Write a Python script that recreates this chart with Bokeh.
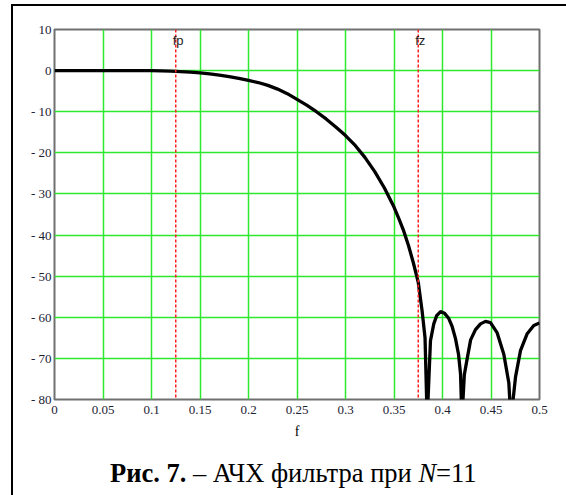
from bokeh.plotting import figure
from bokeh.models import Range1d, FixedTicker, Span, Label, Div
from bokeh.layouts import column
from bokeh.embed import file_html
from bokeh.resources import INLINE

# ---- data ----
freq = [0.0, 0.05, 0.08, 0.10, 0.11, 0.12, 0.13, 0.14, 0.15, 0.16, 0.17, 0.18, 0.19,
        0.20, 0.21, 0.22, 0.23, 0.24, 0.25, 0.26, 0.27, 0.28, 0.29, 0.30, 0.31,
        0.32, 0.33, 0.34, 0.35, 0.355, 0.36, 0.365, 0.37, 0.375, 0.379, 0.382,
        0.3842, 0.3876, 0.391, 0.394, 0.398, 0.402, 0.4065, 0.41, 0.4134, 0.4165,
        0.4186, 0.4200, 0.4225, 0.4255, 0.429, 0.434, 0.4392, 0.4443, 0.4495,
        0.4564, 0.4632, 0.4684, 0.4705, 0.4753, 0.4804, 0.4873, 0.4941, 0.5]
gain_db = [0.0, 0.0, 0.0, -0.02, -0.07, -0.14, -0.24, -0.37, -0.55, -0.8, -1.1, -1.45, -1.9,
           -2.4, -2.9, -3.6, -4.5, -5.6, -7.0, -8.4, -10.0, -11.75, -13.7, -15.8, -18.2,
           -21.1, -24.5, -28.5, -33.2, -36.0, -39.0, -42.6, -46.8, -51.5, -58.5, -65.0,
           -85.0, -65.7, -61.6, -59.6, -58.6, -59.0, -60.3, -62.3, -65.2, -69.0,
           -73.8, -85.0, -74.0, -70.0, -65.5, -63.0, -61.6, -61.0, -61.3,
           -63.8, -69.0, -76.0, -85.0, -74.5, -68.1, -64.0, -62.0, -61.4]

fp = 0.125
fz = 0.375

x_ticks = [0.0, 0.05, 0.1, 0.15, 0.2, 0.25, 0.3, 0.35, 0.4, 0.45, 0.5]
x_tick_labels = ["0", "0.05", "0.1", "0.15", "0.2", "0.25", "0.3", "0.35", "0.4", "0.45", "0.5"]
y_ticks = [10, 0, -10, -20, -30, -40, -50, -60, -70, -80]
y_tick_labels = ["10", "0", "- 10", "- 20", "- 30", "- 40", "- 50", "- 60", "- 70", "- 80"]

x_label = "f"
caption_html = '<b>Рис. 7.</b> – АЧХ фильтра при <i>N</i>=11'

# ---- layout (pixels) ----
W, H = 550, 443
ML, MT, FW, FH = 41, 23, 485, 370

p = figure(width=W, height=H, output_backend="svg", toolbar_location=None,
           x_range=Range1d(0, 0.5), y_range=Range1d(-80, 10),
           min_border_left=ML, min_border_right=W - ML - FW,
           min_border_top=MT, min_border_bottom=H - MT - FH)
p.background_fill_color = "white"
p.border_fill_color = "white"
p.outline_line_color = "#707070"
p.outline_line_width = 2

serif = "Liberation Serif"
tick_color = "#1c2233"

p.xaxis.ticker = FixedTicker(ticks=x_ticks)
p.yaxis.ticker = FixedTicker(ticks=y_ticks)
p.xaxis.major_label_overrides = {t: l for t, l in zip(x_ticks, x_tick_labels)}
p.yaxis.major_label_overrides = {t: l for t, l in zip(y_ticks, y_tick_labels)}
for ax in (p.xaxis[0], p.yaxis[0]):
    ax.axis_line_color = None
    ax.major_tick_line_color = None
    ax.minor_tick_line_color = None
    ax.major_tick_out = 0
    ax.major_tick_in = 0
    ax.minor_tick_out = 0
    ax.minor_tick_in = 0
    ax.major_label_text_font = serif
    ax.major_label_text_font_size = "13px"
    ax.major_label_text_color = tick_color
p.xaxis.major_label_standoff = 6
p.yaxis.major_label_standoff = 3
p.xaxis.axis_label = x_label
p.xaxis.axis_label_text_font = serif
p.xaxis.axis_label_text_font_size = "14px"
p.xaxis.axis_label_text_font_style = "normal"
p.xaxis.axis_label_text_color = "black"
p.xaxis.axis_label_standoff = 7

for g in (p.xgrid[0], p.ygrid[0]):
    g.grid_line_color = "#2ee82e"
    g.grid_line_width = 1.5
p.xgrid.ticker = FixedTicker(ticks=x_ticks)
p.ygrid.ticker = FixedTicker(ticks=y_ticks)

for loc, name in ((fp, "fp"), (fz, "fz")):
    p.add_layout(Span(location=loc, dimension="height", line_color="#ff2020",
                      line_width=1.5, line_dash="3 2"))
    p.add_layout(Label(x=loc, y=10, x_offset=-3, y_offset=-3, text=name,
                       text_font="Liberation Sans", text_font_size="13px",
                       text_color="#222222", text_baseline="top", text_align="left"))

p.line(freq, gain_db, line_color="black", line_width=3.3)

caption = Div(text=caption_html, width=W, height=40,
              styles={"font-family": "Liberation Serif", "font-size": "26.5px",
                      "line-height": "30px", "color": "black",
                      "text-align": "left", "padding-left": "92px",
                      "padding-top": "4px", "white-space": "nowrap"})

layout = column(p, caption,
                styles={"border-left": "2px solid black", "border-top": "2px solid black",
                        "margin-left": "11px", "margin-top": "4px"})

open("out.html", "w").write(file_html(layout, INLINE))
